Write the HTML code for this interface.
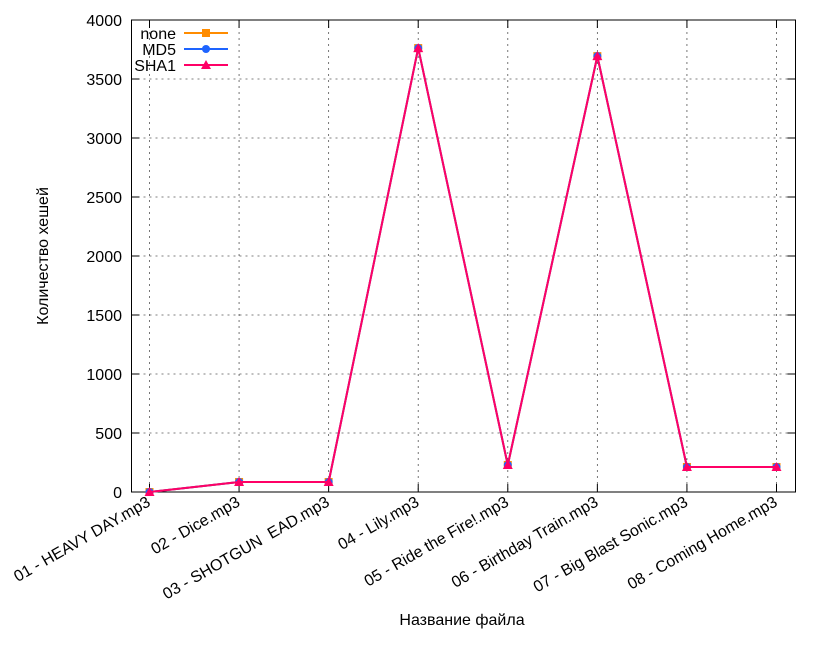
<!DOCTYPE html>
<html><head><meta charset="utf-8"><style>
body{margin:0;background:#fff}
svg text{font-family:"Liberation Sans",sans-serif;font-size:16px;fill:#000}
</style></head><body>
<svg id="c" width="820" height="640" xmlns="http://www.w3.org/2000/svg"></svg>
<script>
const categories=["01 - HEAVY DAY.mp3","02 - Dice.mp3","03 - SHOTGUN \u00a0EAD.mp3","04 - Lily.mp3","05 - Ride the Fire!.mp3","06 - Birthday Train.mp3","07 - Big Blast Sonic.mp3","08 - Coming Home.mp3"];
const noneVals=[0,85,85,3762,229,3694,212,212];
const md5Vals=[0,85,85,3762,229,3694,212,212];
const sha1Vals=[0,85,85,3762,229,3694,212,212];
const yTicks=[0,500,1000,1500,2000,2500,3000,3500,4000];
const L=131.5,R=795.5,T=20,B=492;
const svg=document.getElementById('c');
const NS='http://www.w3.org/2000/svg';
function X(i){return 149.5+i*(776.5-149.5)/(categories.length-1);}
function Y(v){return B-(v/4000)*(B-T);}
function mk(t,a,p){const e=document.createElementNS(NS,t);for(const k in a)e.setAttribute(k,a[k]);(p||svg).appendChild(e);return e;}
yTicks.forEach(v=>{const y=Y(v);
 if(v>0&&v<4000){const g=mk('line',{x1:L,x2:R,y1:y,y2:y,stroke:'#555','stroke-dasharray':'2,4','stroke-width':0.8});}
 const t=mk('text',{x:122,y:y+6,'text-anchor':'end'});t.textContent=v;
 
 
 mk('line',{x1:L,x2:L+8,y1:y,y2:y,stroke:'#000'});mk('line',{x1:R,x2:R-8,y1:y,y2:y,stroke:'#000'});
});
categories.forEach((c,i)=>{const x=X(i);
 const g=mk('line',{x1:x,x2:x,y1:T,y2:B,stroke:'#555','stroke-dasharray':'2,4','stroke-width':0.8});
 
 
 mk('line',{x1:x,x2:x,y1:B,y2:B-8,stroke:'#000'});mk('line',{x1:x,x2:x,y1:T,y2:T+8,stroke:'#000'});
 const t=mk('text',{x:x+2,y:B+13,'text-anchor':'end',transform:`rotate(-30 ${x+2} ${B+13})`});t.textContent=c;
 
 
});
const fr=mk('rect',{x:L,y:T,width:R-L,height:B-T,fill:'none',stroke:'#000','stroke-width':1});


function series(vals,color,shape,name){
 const g=mk('g',{});
 mk('polyline',{points:vals.map((v,i)=>X(i)+','+Y(v)).join(' '),fill:'none',stroke:color,'stroke-width':2},g);
 vals.forEach((v,i)=>marker(X(i),Y(v),color,shape,g));
}
function marker(x,y,color,shape,g){
 if(shape==='sq')mk('rect',{x:x-4,y:y-4,width:8,height:8,fill:color},g);
 else if(shape==='c')mk('circle',{cx:x,cy:y,r:4,fill:color},g);
 else mk('polygon',{points:`${x},${y-5} ${x-5},${y+4} ${x+5},${y+4}`,fill:color},g);
}
series(noneVals,'#ff8c00','sq','series-none');
series(md5Vals,'#1e64ff','c','series-md5');
series(sha1Vals,'#ff0066','t','series-sha1');
const leg=[['none','#ff8c00','sq'],['MD5','#1e64ff','c'],['SHA1','#ff0066','t']];
leg.forEach((l,i)=>{const y=33+i*16;
 const g=mk('g',{});
 const t=mk('text',{x:176,y:y+6,'text-anchor':'end'},g);t.textContent=l[0];
 mk('line',{x1:184,x2:228,y1:y,y2:y,stroke:l[1],'stroke-width':2},g);marker(206,y,l[1],l[2],g);
});
let t=mk('text',{x:462,y:625,'text-anchor':'middle'});t.textContent='Название файла';

t=mk('text',{x:48,y:256,'text-anchor':'middle',transform:'rotate(-90 48 256)'});t.textContent='Количество хешей';

</script>
</body></html>
